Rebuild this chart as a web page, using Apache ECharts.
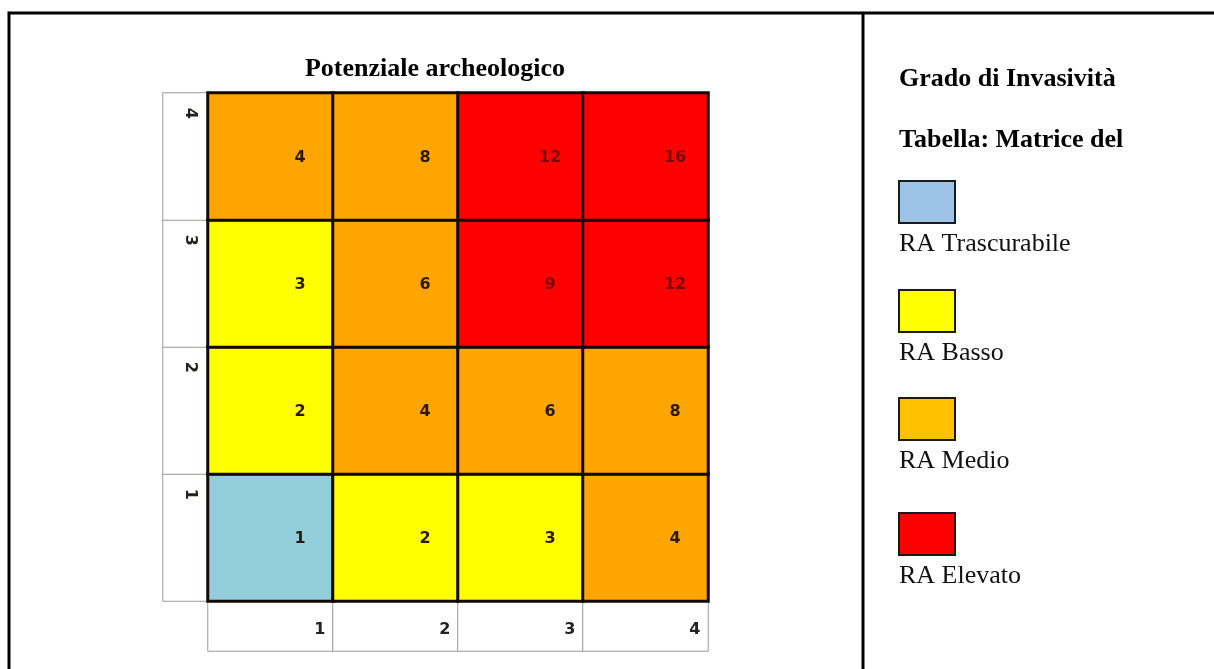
<!DOCTYPE html>
<html>
<head>
<meta charset="utf-8">
<title>Potenziale archeologico</title>
<script src="https://cdn.jsdelivr.net/npm/echarts@6/dist/echarts.min.js"></script>
<style>
  html, body { margin: 0; padding: 0; background: #fff; }
  #matrix { width: 1214px; height: 669px; }
</style>
</head>
<body>
<div id="matrix"></div>
<script>
// etichette degli assi (potenziale / invasività)
const xTicks = ['1', '2', '3', '4']
const yTicks = ['1', '2', '3', '4']

// valori della matrice, una riga per grado (dal basso verso l'alto)
const row1 = [1, 2, 3, 4]
const row2 = [2, 4, 6, 8]
const row3 = [3, 6, 9, 12]
const row4 = [4, 8, 12, 16]

// classi di rischio
const classNames = ['RA Trascurabile', 'RA Basso', 'RA Medio', 'RA Elevato']
const classMin = [1, 2, 4, 9]
const classMax = [1, 3, 8, 16]
const cellColors = ['#92CDDC', '#FFFF00', '#FFA500', '#FF0000']
const keyColors = ['#9DC3E6', '#FFFF00', '#FFC000', '#FF0000']

const serif = '"Liberation Serif", "Times New Roman", serif'
const sans = '"DejaVu Sans", Verdana, sans-serif'

/* dati heatmap */
let cells = []
;[row1, row2, row3, row4].forEach((row, y) => {
  row.forEach((v, x) => cells.push([x, y, v]))
})
let xCells = xTicks.map((t, i) => [i, 0, t])
let yCells = yTicks.map((t, i) => [0, i, t])

/* legenda a destra */
let keyTop = [181, 290, 398, 513]
let keyGraphics = []
classNames.forEach((name, i) => {
  keyGraphics.push({
    type: 'rect',
    shape: { x: 899, y: keyTop[i], width: 56, height: 42 },
    style: { fill: keyColors[i], stroke: '#1a1a1a', lineWidth: 2 },
  })
  keyGraphics.push({
    type: 'text',
    x: 899,
    y: keyTop[i] + 63,
    style: {
      text: name,
      font: '26px ' + serif,
      fill: '#111',
      verticalAlign: 'middle',
    },
  })
})

let option = {
  backgroundColor: '#fff',
  animation: false,
  title: [
    {
      text: 'Potenziale archeologico',
      left: 435,
      top: 56,
      textAlign: 'center',
      padding: 0,
      textStyle: { fontFamily: serif, fontSize: 26, fontWeight: 'bold', color: '#000' },
    },
    {
      text: 'Grado di Invasività',
      left: 899,
      top: 66,
      padding: 0,
      textStyle: { fontFamily: serif, fontSize: 26, fontWeight: 'bold', color: '#000' },
    },
    {
      text: 'Tabella: Matrice del',
      left: 899,
      top: 127,
      padding: 0,
      textStyle: { fontFamily: serif, fontSize: 26, fontWeight: 'bold', color: '#000' },
    },
  ],
  visualMap: {
    show: false,
    type: 'piecewise',
    seriesIndex: 2,
    dimension: 2,
    pieces: classNames.map((n, i) => ({ min: classMin[i], max: classMax[i], color: cellColors[i] })),
  },
  grid: [
    { left: 208, top: 93, width: 500, height: 508 },
    { left: 208, top: 601, width: 500, height: 50 },
    { left: 163, top: 93, width: 45, height: 508 },
  ],
  xAxis: [
    { type: 'category', gridIndex: 0, data: xTicks, show: false },
    { type: 'category', gridIndex: 1, data: xTicks, show: false },
    { type: 'category', gridIndex: 2, data: [''], show: false },
  ],
  yAxis: [
    { type: 'category', gridIndex: 0, data: yTicks, show: false },
    { type: 'category', gridIndex: 1, data: [''], show: false },
    { type: 'category', gridIndex: 2, data: yTicks, show: false },
  ],
  series: [
    {
      type: 'heatmap',
      xAxisIndex: 1,
      yAxisIndex: 1,
      data: xCells,
      itemStyle: { color: '#fff', borderColor: '#9a9a9a', borderWidth: 1 },
      label: {
        show: true,
        formatter: (p) => p.value[2],
        position: ['89%', 30],
        align: 'center',
        verticalAlign: 'middle',
        fontFamily: sans,
        fontWeight: 'bold',
        fontSize: 16,
        color: '#222',
      },
      emphasis: { disabled: true },
    },
    {
      type: 'heatmap',
      xAxisIndex: 2,
      yAxisIndex: 2,
      data: yCells,
      itemStyle: { color: '#fff', borderColor: '#9a9a9a', borderWidth: 1 },
      label: {
        show: true,
        formatter: (p) => p.value[2],
        position: ['60%', 21],
        align: 'center',
        verticalAlign: 'middle',
        rotate: -90,
        fontFamily: sans,
        fontWeight: 'bold',
        fontSize: 16,
        color: '#222',
      },
      emphasis: { disabled: true },
    },
    {
      type: 'heatmap',
      xAxisIndex: 0,
      yAxisIndex: 0,
      data: cells,
      itemStyle: { borderColor: '#140800', borderWidth: 3 },
      label: {
        show: true,
        position: ['73%', '51%'],
        align: 'center',
        verticalAlign: 'middle',
        formatter: (p) => (p.value[2] >= 9 ? '{r|' : '{d|') + p.value[2] + '}',
        rich: {
          d: { fontFamily: sans, fontWeight: 'bold', fontSize: 16, color: '#2a1a00' },
          r: { fontFamily: sans, fontWeight: 'bold', fontSize: 16, color: '#7a0000' },
        },
      },
      emphasis: { disabled: true },
    },
  ],
  graphic: [
    {
      type: 'rect',
      shape: { x: 9, y: 13, width: 1230, height: 700 },
      style: { fill: null, stroke: '#000', lineWidth: 3 },
    },
    {
      type: 'line',
      shape: { x1: 863, y1: 13, x2: 863, y2: 669 },
      style: { stroke: '#000', lineWidth: 3 },
    },
    ...keyGraphics,
  ],
}

let chart = echarts.init(document.getElementById('matrix'))
chart.setOption(option)
</script>
</body>
</html>
